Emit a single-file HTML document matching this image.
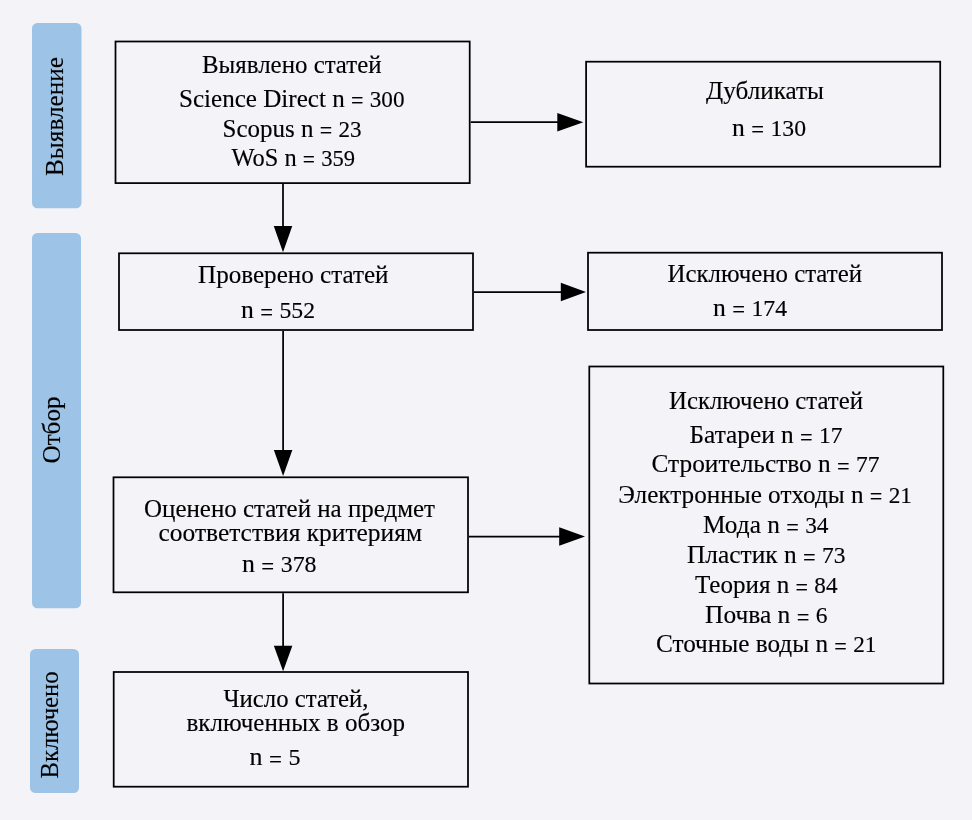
<!DOCTYPE html><html><head><meta charset="utf-8"><style>html,body{margin:0;padding:0;background:#f3f3f8;}svg{display:block;will-change:transform}text{font-family:"Liberation Serif",serif;font-size:26px;fill:#000;stroke:#000;stroke-width:0.15px}.d{font-size:24px}.e{font-size:23px;stroke-width:0.1px}</style></head><body>
<svg width="972" height="820" viewBox="0 0 972 820">
<rect x="0" y="0" width="972" height="820" fill="#f3f3f8"/>
<rect x="32" y="23" width="49.5" height="185.3" rx="5.5" ry="5.5" fill="#9dc3e6"/>
<rect x="32" y="233" width="49" height="375.3" rx="5.5" ry="5.5" fill="#9dc3e6"/>
<rect x="30" y="649" width="49" height="144" rx="5.5" ry="5.5" fill="#9dc3e6"/>
<rect x="115.5" y="41.5" width="354.2" height="141.6" fill="none" stroke="#000" stroke-width="1.75"/>
<rect x="586.1" y="61.7" width="354.1" height="105" fill="none" stroke="#000" stroke-width="1.75"/>
<rect x="119" y="253.3" width="354" height="76.7" fill="none" stroke="#000" stroke-width="1.75"/>
<rect x="588" y="252.7" width="354" height="77.3" fill="none" stroke="#000" stroke-width="1.75"/>
<rect x="589.3" y="366.5" width="354" height="317" fill="none" stroke="#000" stroke-width="1.75"/>
<rect x="113.5" y="477.3" width="354.5" height="115" fill="none" stroke="#000" stroke-width="1.75"/>
<rect x="113.7" y="672" width="354.3" height="114.7" fill="none" stroke="#000" stroke-width="1.75"/>
<line x1="283" y1="184" x2="283" y2="227" stroke="#000" stroke-width="1.75"/>
<polygon points="273.75,226 292.25,226 283,252.2" fill="#000"/>
<line x1="470.7" y1="122.2" x2="558.3" y2="122.2" stroke="#000" stroke-width="1.75"/>
<polygon points="557.3,112.95 557.3,131.45 583.3,122.2" fill="#000"/>
<line x1="474" y1="292" x2="561.8" y2="292" stroke="#000" stroke-width="1.75"/>
<polygon points="560.8,282.75 560.8,301.25 586,292" fill="#000"/>
<line x1="283.1" y1="331" x2="283.1" y2="451" stroke="#000" stroke-width="1.75"/>
<polygon points="273.85,450 292.35,450 283.1,476" fill="#000"/>
<line x1="469" y1="536.5" x2="560.2" y2="536.5" stroke="#000" stroke-width="1.75"/>
<polygon points="559.2,527.25 559.2,545.75 585,536.5" fill="#000"/>
<line x1="283.1" y1="593.3" x2="283.1" y2="646.7" stroke="#000" stroke-width="1.75"/>
<polygon points="273.85,645.7 292.35,645.7 283.1,671.2" fill="#000"/>
<text x="202.00" y="72.90" textLength="179.50" lengthAdjust="spacingAndGlyphs">Выявлено статей</text>
<text x="179.00" y="106.50" textLength="225.50" lengthAdjust="spacingAndGlyphs">Science Direct n <tspan class="e" dy="1.7">=</tspan><tspan dy="-1.7"> </tspan><tspan class="d">300</tspan></text>
<text x="222.50" y="136.50" textLength="139.00" lengthAdjust="spacingAndGlyphs">Scopus n <tspan class="e" dy="1.7">=</tspan><tspan dy="-1.7"> </tspan><tspan class="d">23</tspan></text>
<text x="231.50" y="165.60" textLength="123.50" lengthAdjust="spacingAndGlyphs">WoS n <tspan class="e" dy="1.7">=</tspan><tspan dy="-1.7"> </tspan><tspan class="d">359</tspan></text>
<text x="706.00" y="99.00" textLength="118.00" lengthAdjust="spacingAndGlyphs">Дубликаты</text>
<text x="732.00" y="135.60" textLength="74.00" lengthAdjust="spacingAndGlyphs">n <tspan class="e" dy="1.7">=</tspan><tspan dy="-1.7"> </tspan><tspan class="d">130</tspan></text>
<text x="198.00" y="282.70" textLength="190.50" lengthAdjust="spacingAndGlyphs">Проверено статей</text>
<text x="241.00" y="317.90" textLength="74.00" lengthAdjust="spacingAndGlyphs">n <tspan class="e" dy="1.7">=</tspan><tspan dy="-1.7"> </tspan><tspan class="d">552</tspan></text>
<text x="667.50" y="282.40" textLength="194.50" lengthAdjust="spacingAndGlyphs">Исключено статей</text>
<text x="713.00" y="315.70" textLength="74.00" lengthAdjust="spacingAndGlyphs">n <tspan class="e" dy="1.7">=</tspan><tspan dy="-1.7"> </tspan><tspan class="d">174</tspan></text>
<text x="669.00" y="408.90" textLength="194.00" lengthAdjust="spacingAndGlyphs">Исключено статей</text>
<text x="689.50" y="442.90" textLength="153.00" lengthAdjust="spacingAndGlyphs">Батареи n <tspan class="e" dy="1.7">=</tspan><tspan dy="-1.7"> </tspan><tspan class="d">17</tspan></text>
<text x="651.50" y="472.20" textLength="228.00" lengthAdjust="spacingAndGlyphs">Строительство n <tspan class="e" dy="1.7">=</tspan><tspan dy="-1.7"> </tspan><tspan class="d">77</tspan></text>
<text x="618.25" y="502.50" textLength="293.75" lengthAdjust="spacingAndGlyphs">Электронные отходы n <tspan class="e" dy="1.7">=</tspan><tspan dy="-1.7"> </tspan><tspan class="d">21</tspan></text>
<text x="703.00" y="532.90" textLength="125.50" lengthAdjust="spacingAndGlyphs">Мода n <tspan class="e" dy="1.7">=</tspan><tspan dy="-1.7"> </tspan><tspan class="d">34</tspan></text>
<text x="687.00" y="563.10" textLength="158.50" lengthAdjust="spacingAndGlyphs">Пластик n <tspan class="e" dy="1.7">=</tspan><tspan dy="-1.7"> </tspan><tspan class="d">73</tspan></text>
<text x="695.00" y="592.80" textLength="142.50" lengthAdjust="spacingAndGlyphs">Теория n <tspan class="e" dy="1.7">=</tspan><tspan dy="-1.7"> </tspan><tspan class="d">84</tspan></text>
<text x="705.00" y="623.00" textLength="122.50" lengthAdjust="spacingAndGlyphs">Почва n <tspan class="e" dy="1.7">=</tspan><tspan dy="-1.7"> </tspan><tspan class="d">6</tspan></text>
<text x="656.00" y="652.30" textLength="220.50" lengthAdjust="spacingAndGlyphs">Сточные воды n <tspan class="e" dy="1.7">=</tspan><tspan dy="-1.7"> </tspan><tspan class="d">21</tspan></text>
<text x="144.00" y="516.60" textLength="291.00" lengthAdjust="spacingAndGlyphs">Оценено статей на предмет</text>
<text x="158.50" y="541.30" textLength="263.50" lengthAdjust="spacingAndGlyphs">соответствия критериям</text>
<text x="242.00" y="572.20" textLength="74.50" lengthAdjust="spacingAndGlyphs">n <tspan class="e" dy="1.7">=</tspan><tspan dy="-1.7"> </tspan><tspan class="d">378</tspan></text>
<text x="223.50" y="706.70" textLength="145.00" lengthAdjust="spacingAndGlyphs">Число статей,</text>
<text x="186.50" y="731.40" textLength="218.50" lengthAdjust="spacingAndGlyphs">включенных в обзор</text>
<text x="249.50" y="765.20" textLength="51.00" lengthAdjust="spacingAndGlyphs">n <tspan class="e" dy="1.7">=</tspan><tspan dy="-1.7"> </tspan><tspan class="d">5</tspan></text>
<text transform="translate(63.00 176.00) rotate(-90)" x="0" y="0" textLength="119.00" lengthAdjust="spacingAndGlyphs">Выявление</text>
<text transform="translate(59.80 463.50) rotate(-90)" x="0" y="0" textLength="67.00" lengthAdjust="spacingAndGlyphs">Отбор</text>
<text transform="translate(58.20 778.50) rotate(-90)" x="0" y="0" textLength="107.00" lengthAdjust="spacingAndGlyphs">Включено</text>
</svg></body></html>
